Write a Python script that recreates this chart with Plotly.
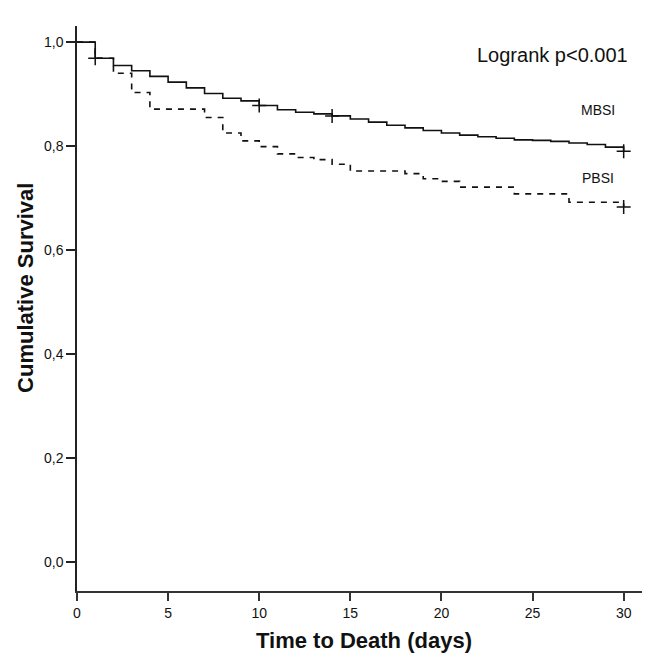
import plotly.graph_objects as go

# Kaplan-Meier step data (time in days, cumulative survival after step)
mbsi_days = list(range(0, 31))
mbsi_surv = [1.0, 0.969, 0.955, 0.945, 0.934, 0.923, 0.912, 0.901, 0.892, 0.887,
             0.878, 0.870, 0.865, 0.862, 0.858, 0.852, 0.846, 0.840, 0.835, 0.830,
             0.825, 0.821, 0.818, 0.815, 0.812, 0.811, 0.809, 0.806, 0.803, 0.798,
             0.790]
mbsi_cens_days = [1, 10, 14, 30]
mbsi_cens_surv = [0.969, 0.878, 0.858, 0.790]

pbsi_days = [0, 1, 2, 3, 4, 7, 8, 9, 10, 11, 12, 13, 14, 15, 18, 19, 20, 21, 24, 27, 30]
pbsi_surv = [1.0, 0.969, 0.940, 0.903, 0.871, 0.855, 0.825, 0.810, 0.799, 0.785,
             0.778, 0.774, 0.765, 0.752, 0.747, 0.737, 0.732, 0.721, 0.708, 0.692,
             0.683]
pbsi_cens_days = [30]
pbsi_cens_surv = [0.683]

x_ticks = [0, 5, 10, 15, 20, 25, 30]
y_ticks = [0.0, 0.2, 0.4, 0.6, 0.8, 1.0]

FONT = "Liberation Sans, Arial, sans-serif"
INK = "#111111"

fig = go.Figure()
fig.add_trace(go.Scatter(x=pbsi_days, y=pbsi_surv, mode="lines", line_shape="hv",
                         line=dict(color=INK, width=1.6, dash="6px,6px"),
                         name="PBSI", showlegend=False))
fig.add_trace(go.Scatter(x=mbsi_days, y=mbsi_surv, mode="lines", line_shape="hv",
                         line=dict(color=INK, width=1.6),
                         name="MBSI", showlegend=False))
fig.add_trace(go.Scatter(x=mbsi_cens_days + pbsi_cens_days,
                         y=mbsi_cens_surv + pbsi_cens_surv, mode="markers",
                         marker=dict(symbol="cross-thin", size=10,
                                     line=dict(color=INK, width=1.5)),
                         showlegend=False))

fig.add_annotation(x=30.32, y=0.976, text="Logrank p<0.001", showarrow=False,
                   xanchor="right", yanchor="middle",
                   font=dict(family=FONT, size=20, color=INK))
fig.add_annotation(x=28.6, y=0.870, text="MBSI", showarrow=False,
                   xanchor="center", yanchor="middle",
                   font=dict(family=FONT, size=14, color=INK))
fig.add_annotation(x=28.6, y=0.738, text="PBSI", showarrow=False,
                   xanchor="center", yanchor="middle",
                   font=dict(family=FONT, size=14, color=INK))
# y-axis title (SPSS places it centred slightly above the plot-area middle)
fig.add_annotation(xref="paper", x=-0.089, y=0.527, text="<b>Cumulative Survival</b>",
                   textangle=-90, showarrow=False, xanchor="center", yanchor="middle",
                   font=dict(family=FONT, size=22, color=INK))

fig.update_layout(
    width=650, height=654,
    margin=dict(l=69, r=7, t=18, b=71, autoexpand=False),
    paper_bgcolor="white", plot_bgcolor="white",
    separators=",.",
    font=dict(family=FONT, size=14, color=INK),
    showlegend=False,
)
fig.update_xaxes(range=[0, 31.5], tickvals=x_ticks, ticktext=[str(v) for v in x_ticks],
                 automargin=False,
                 showgrid=False, zeroline=False, showline=True, linecolor="#333333",
                 linewidth=1.5, ticks="outside", ticklen=8, tickwidth=1.5,
                 tickcolor="#333333", tickfont=dict(family=FONT, size=14, color=INK),
                 title=dict(text="<b>Time to Death (days)</b>", standoff=13,
                            font=dict(family=FONT, size=22, color=INK)))
fig.update_yaxes(range=[-0.056, 1.031], tickvals=y_ticks, tickformat=".1f",
                 automargin=False,
                 showgrid=False, zeroline=False, showline=True, linecolor="#222222",
                 linewidth=1.5, ticks="outside", ticklen=9, tickwidth=1.5,
                 tickcolor="#222222", tickfont=dict(family=FONT, size=14, color=INK))

fig.write_html("out.html")
